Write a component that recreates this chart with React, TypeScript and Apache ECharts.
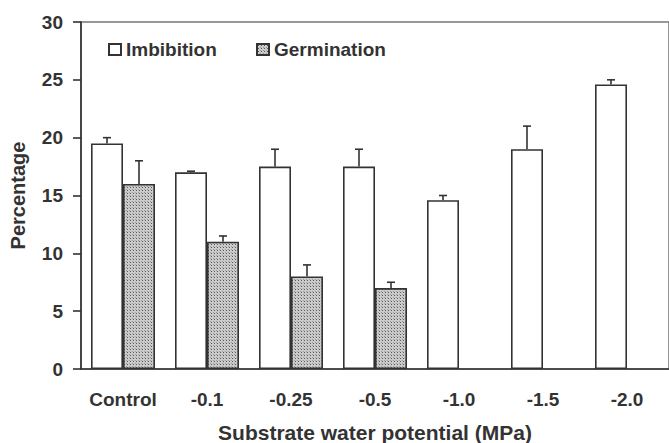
import React, { useEffect, useRef } from "react";
import * as echarts from "echarts";

const categories = ["Control", "-0.1", "-0.25", "-0.5", "-1.0", "-1.5", "-2.0"];
const imbibition = [19.5, 17, 17.5, 17.5, 14.6, 19, 24.6];
const imbibitionErr = [20, 17.1, 19, 19, 15, 21, 25];
const germination = [16, 11, 8, 7, null, null, null];
const germinationErr = [18, 11.5, 9, 7.5, null, null, null];
const yTicks = [0, 5, 10, 15, 20, 25, 30];

const FONT = "'Liberation Sans', Arial, sans-serif";
const BAR_W = 32;

function makePattern() {
  const c = document.createElement("canvas");
  c.width = 3;
  c.height = 3;
  const ctx = c.getContext("2d")!;
  ctx.fillStyle = "#cbcbcb";
  ctx.fillRect(0, 0, 3, 3);
  ctx.fillStyle = "#5a5a5a";
  ctx.fillRect(1, 1, 1, 1);
  ctx.fillStyle = "#9a9a9a";
  ctx.fillRect(0, 0, 1, 1);
  return c;
}

function errSeries(name: string, vals: (number | null)[], tops: (number | null)[], offset: number) {
  return {
    type: "custom",
    name: name + "-err",
    silent: true,
    z: 1,
    data: vals.map((v, i) => [i, v, tops[i]]),
    renderItem: (params: any, api: any) => {
      const v = api.value(1);
      const t = api.value(2);
      if (v == null || t == null || isNaN(v) || isNaN(t)) return null;
      const p0 = api.coord([api.value(0), v]);
      const p1 = api.coord([api.value(0), t]);
      const x = p0[0] + offset;
      const style = { stroke: "#333", lineWidth: 1.6 };
      return {
        type: "group",
        children: [
          { type: "line", shape: { x1: x, y1: p0[1], x2: x, y2: p1[1] }, style },
          { type: "line", shape: { x1: x - 4, y1: p1[1], x2: x + 4, y2: p1[1] }, style },
        ],
      };
    },
  };
}

export default function App() {
  const ref = useRef<HTMLDivElement>(null);
  useEffect(() => {
    const chart = echarts.init(ref.current!, null, { renderer: "svg" });
    const pattern = { image: makePattern(), repeat: "repeat" };
    const labelStyle = { fontFamily: FONT, fontWeight: "bold", fontSize: 19, color: "#333" };
    chart.setOption({
      animation: false,
      backgroundColor: "#fff",
      grid: {
        left: 81,
        top: 22,
        width: 588,
        height: 347,
        outerBoundsMode: "none",
        containLabel: false,
        show: true,
        borderColor: "#777",
        borderWidth: 1.5,
      },
      legend: [
        {
          data: ["Imbibition"],
          left: 103,
          top: 35,
          itemWidth: 12,
          itemHeight: 11,
          textStyle: labelStyle,
          icon: "rect",
        },
        {
          data: ["Germination"],
          left: 251,
          top: 35,
          itemWidth: 12,
          itemHeight: 11,
          textStyle: labelStyle,
          icon: "rect",
        },
      ],
      xAxis: {
        type: "category",
        data: categories,
        name: "Substrate water potential (MPa)",
        nameLocation: "middle",
        nameGap: 53,
        nameTextStyle: { ...labelStyle, fontSize: 21 },
        axisLine: { lineStyle: { color: "#333", width: 1.6 } },
        axisTick: { length: 5, lineStyle: { color: "#333", width: 1.6 } },
        axisLabel: { ...labelStyle, margin: 21, interval: 0, hideOverlap: false },
      },
      yAxis: {
        type: "value",
        min: 0,
        max: 30,
        interval: 5,
        name: "Percentage",
        nameLocation: "middle",
        nameGap: 53,
        nameTextStyle: { ...labelStyle, fontSize: 20 },
        splitLine: { show: false },
        axisLine: { show: true, lineStyle: { color: "#333", width: 1.6 } },
        axisTick: { show: true, length: 8, lineStyle: { color: "#333", width: 1.6 } },
        axisLabel: {
          ...labelStyle,
          margin: 18,
          formatter: (v: number) => (yTicks.includes(v) ? String(v) : ""),
        },
      },
      series: [
        {
          name: "Imbibition",
          type: "bar",
          data: imbibition,
          barWidth: BAR_W,
          barGap: "0%",
          z: 2,
          itemStyle: { color: "#fff", borderColor: "#333", borderWidth: 1.6 },
        },
        {
          name: "Germination",
          type: "bar",
          data: germination,
          barWidth: BAR_W,
          barGap: "0%",
          z: 2,
          itemStyle: { color: pattern, borderColor: "#333", borderWidth: 1.6 },
        },
        errSeries("Imbibition", imbibition, imbibitionErr, -BAR_W / 2),
        errSeries("Germination", germination, germinationErr, BAR_W / 2),
      ],
    });
    return () => chart.dispose();
  }, []);
  return (
    <div
      ref={ref}
      style={{ position: "fixed", left: 0, top: 0, width: 669, height: 443, background: "#fff" }}
    />
  );
}
